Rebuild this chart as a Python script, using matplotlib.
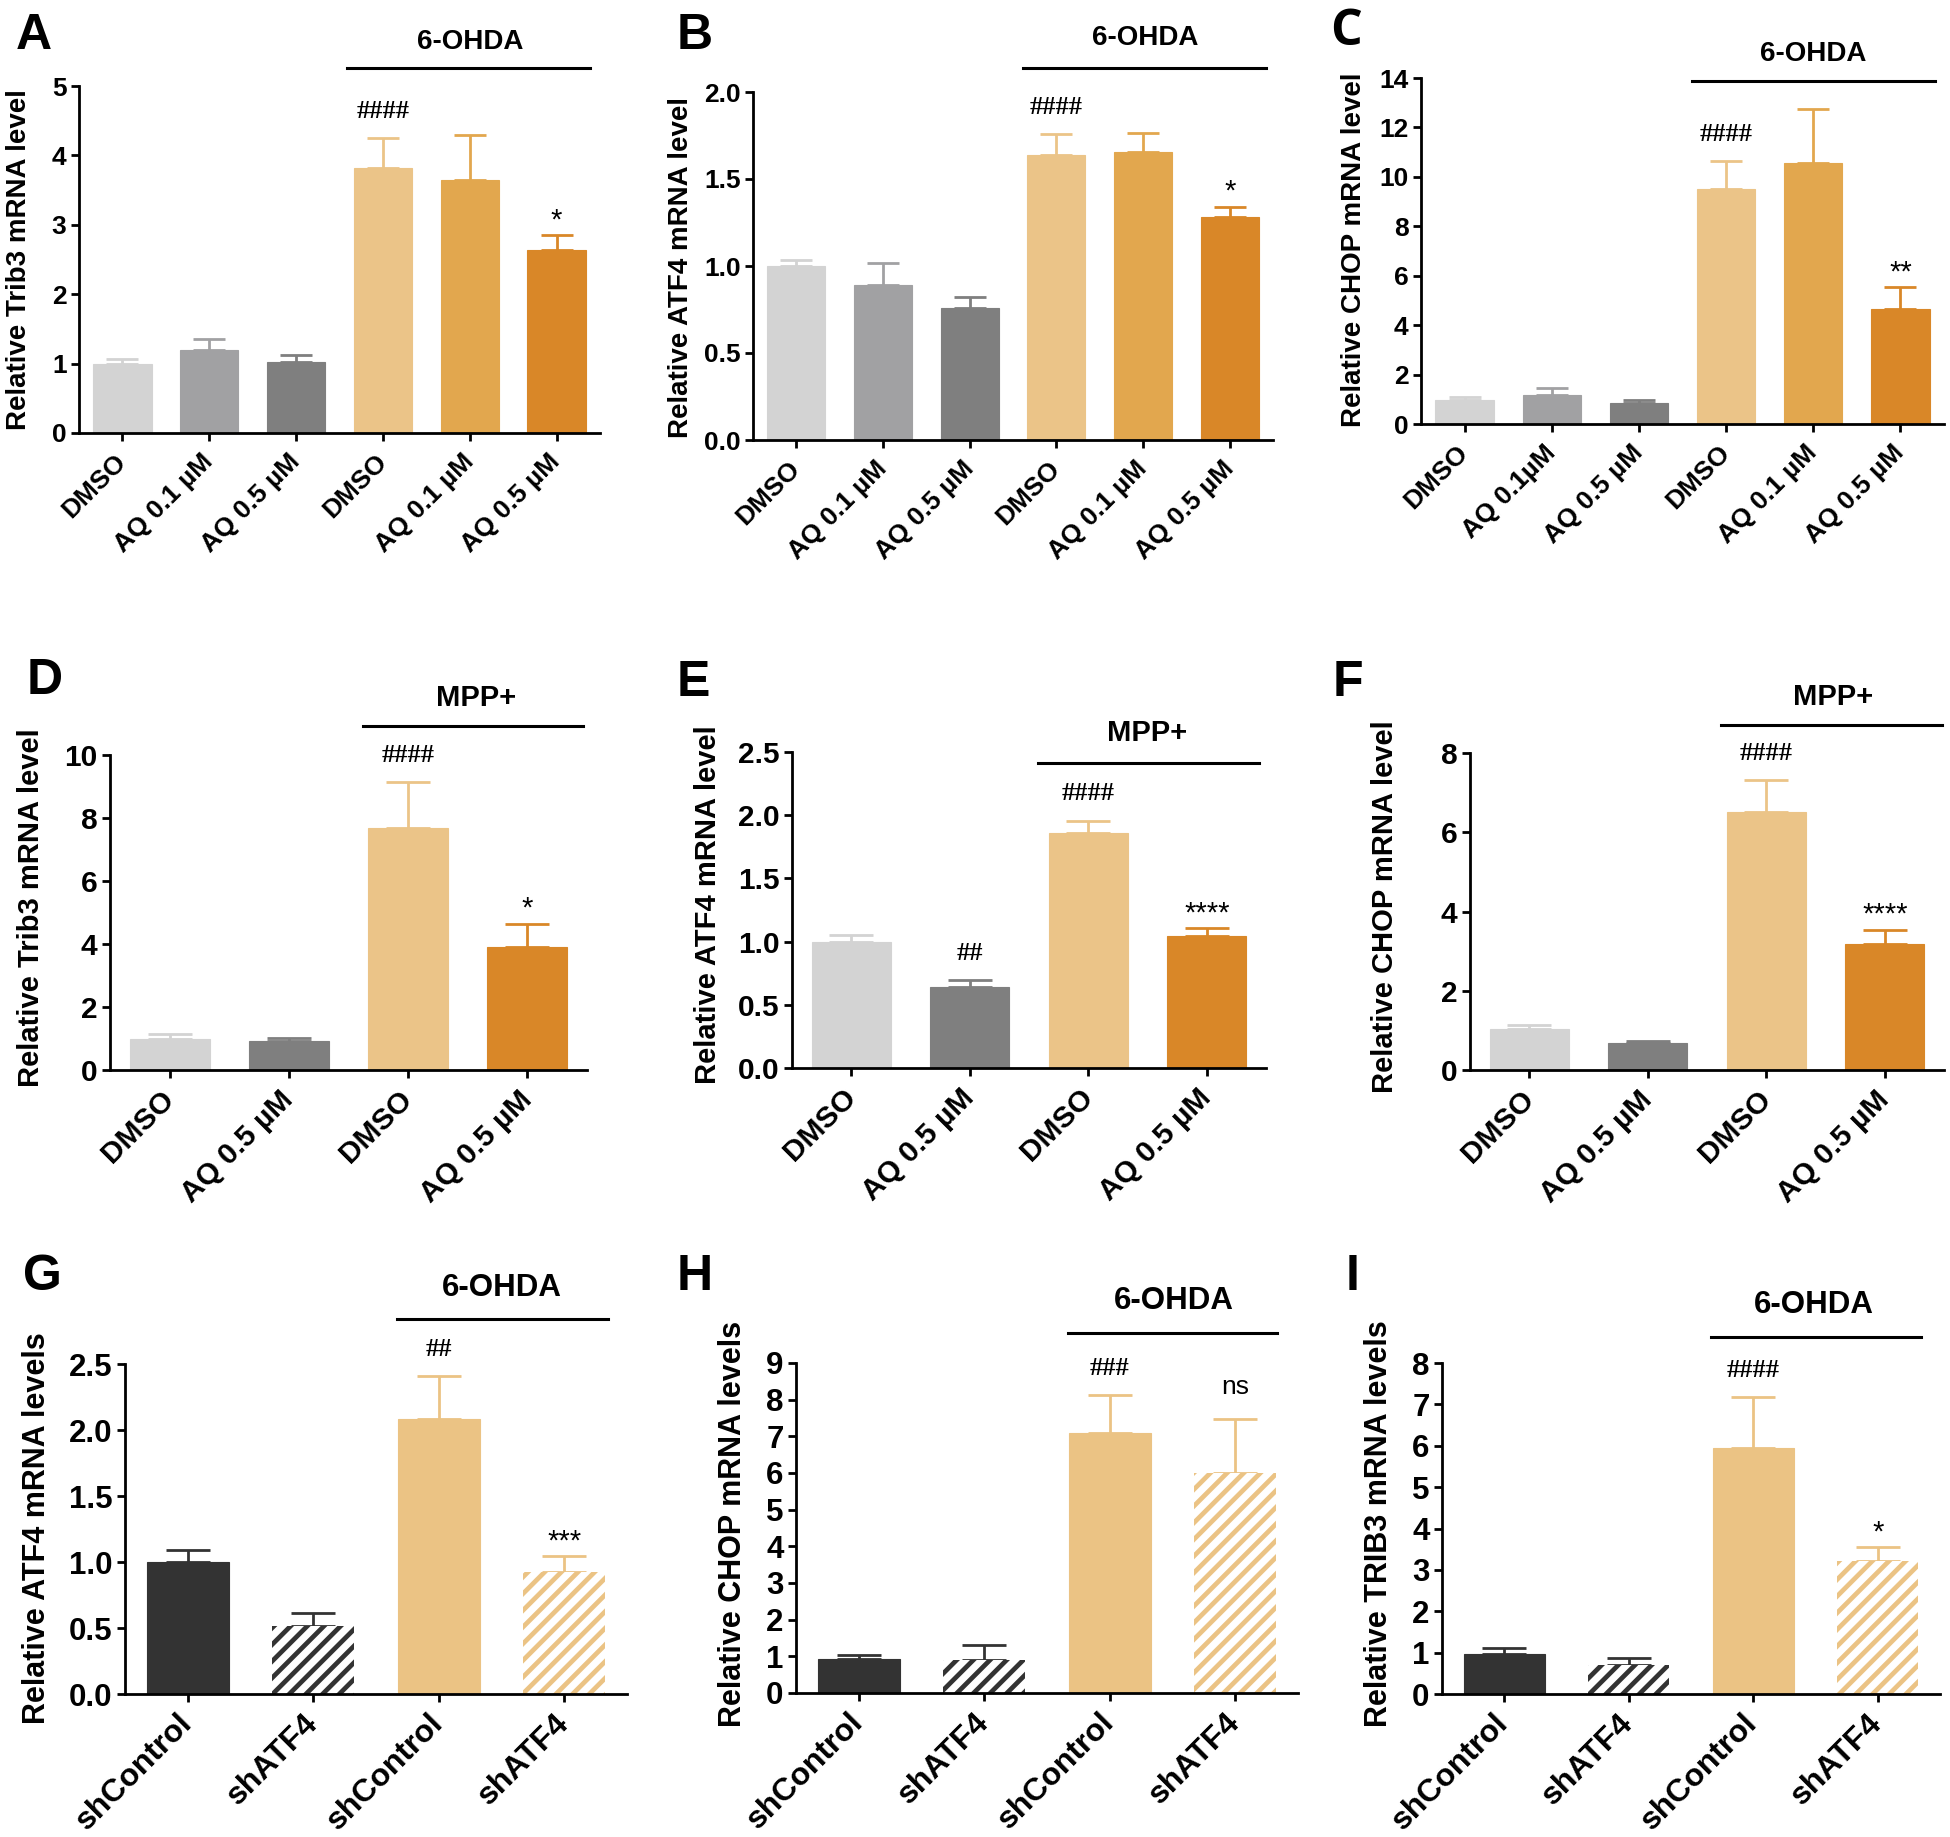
import matplotlib
matplotlib.use("Agg")
import matplotlib.pyplot as plt
import numpy as np

plt.rcParams['font.family'] = ['Liberation Sans', 'DejaVu Sans']
plt.rcParams['hatch.linewidth'] = 3.4

W, H = 1950, 1837

# ---------------- data ----------------
A_labels = ["DMSO", "AQ 0.1 µM", "AQ 0.5 µM", "DMSO", "AQ 0.1 µM", "AQ 0.5 µM"]
A_means = [1.00, 1.20, 1.02, 3.82, 3.65, 2.63]
A_sem = [0.07, 0.15, 0.10, 0.43, 0.65, 0.22]

B_labels = ["DMSO", "AQ 0.1 µM", "AQ 0.5 µM", "DMSO", "AQ 0.1 µM", "AQ 0.5 µM"]
B_means = [1.00, 0.89, 0.76, 1.64, 1.655, 1.28]
B_sem = [0.035, 0.13, 0.06, 0.12, 0.11, 0.06]

C_labels = ["DMSO", "AQ 0.1µM", "AQ 0.5 µM", "DMSO", "AQ 0.1 µM", "AQ 0.5 µM"]
C_means = [0.99, 1.19, 0.84, 9.50, 10.57, 4.67]
C_sem = [0.11, 0.25, 0.14, 1.13, 2.19, 0.87]

D_labels = ["DMSO", "AQ 0.5 µM", "DMSO", "AQ 0.5 µM"]
D_means = [1.00, 0.91, 7.68, 3.90]
D_sem = [0.13, 0.10, 1.46, 0.75]

E_labels = ["DMSO", "AQ 0.5 µM", "DMSO", "AQ 0.5 µM"]
E_means = [0.995, 0.637, 1.863, 1.042]
E_sem = [0.061, 0.058, 0.094, 0.064]

F_labels = ["DMSO", "AQ 0.5 µM", "DMSO", "AQ 0.5 µM"]
F_means = [1.03, 0.68, 6.52, 3.18]
F_sem = [0.11, 0.06, 0.79, 0.36]

G_labels = ["shControl", "shATF4", "shControl", "shATF4"]
G_means = [1.00, 0.513, 2.08, 0.925]
G_sem = [0.093, 0.102, 0.33, 0.119]

H_labels = ["shControl", "shATF4", "shControl", "shATF4"]
H_means = [0.93, 0.89, 7.10, 5.99]
H_sem = [0.115, 0.43, 1.03, 1.49]

I_labels = ["shControl", "shATF4", "shControl", "shATF4"]
I_means = [0.97, 0.71, 5.94, 3.22]
I_sem = [0.14, 0.16, 1.24, 0.33]

# ---------------- styles ----------------
GREY1, GREY2, GREY3 = "#D3D3D3", "#A1A1A3", "#7F7F7F"
OR1, OR2, OR3 = "#EBC488", "#E2A74E", "#D98728"
BLK, OR_G = "#333333", "#EBC384"

six_colors = [GREY1, GREY2, GREY3, OR1, OR2, OR3]
four_colors = [GREY1, GREY3, OR1, OR3]
sh_colors = [BLK, BLK, OR_G, OR_G]
sh_hatch = [False, True, False, True]

def px_rect(L, R, y0, top):
    return [L / W, 1 - y0 / H, (R - L) / W, (y0 - top) / H]

panels = [
    dict(letter="A", rect=px_rect(79, 600, 433, 86), labels=A_labels, means=A_means, sem=A_sem,
         colors=six_colors, ymax=5, ystep=1, fmt="{:.0f}", ylabel="Relative Trib3 mRNA level",
         group="6-OHDA", gline=(2.59, 5.39, 1.052), gtext=(4.01, 1.127),
         marks=[(3, "####"), (5, "*")], letpos=(16, 49), ylpos=(19, 260), row=1),
    dict(letter="B", rect=px_rect(753, 1273, 440, 92), labels=B_labels, means=B_means, sem=B_sem,
         colors=six_colors, ymax=2, ystep=0.5, fmt="{:.1f}", ylabel="Relative ATF4 mRNA level",
         group="6-OHDA", gline=(2.62, 5.42, 1.070), gtext=(4.03, 1.154),
         marks=[(3, "####"), (5, "*")], letpos=(677, 49), ylpos=(681, 267), row=1),
    dict(letter="C", rect=px_rect(1421, 1944, 424, 78), labels=C_labels, means=C_means, sem=C_sem,
         colors=six_colors, ymax=14, ystep=2, fmt="{:.0f}", ylabel="Relative CHOP mRNA level",
         group="6-OHDA", gline=(2.61, 5.40, 0.99), gtext=(4.0, 1.068),
         marks=[(3, "####"), (5, "**")], letpos=(1330, 45), ylpos=(1354, 250), row=1),
    dict(letter="D", rect=px_rect(110, 587, 1070, 755), labels=D_labels, means=D_means, sem=D_sem,
         colors=four_colors, ymax=10, ystep=2, fmt="{:.0f}", ylabel="Relative Trib3 mRNA level",
         group="MPP+", gline=(1.62, 3.47, 1.091), gtext=(2.57, 1.181),
         marks=[(2, "####"), (3, "*")], letpos=(27, 694), ylpos=(31, 908), row=2),
    dict(letter="E", rect=px_rect(792, 1266, 1068, 752), labels=E_labels, means=E_means, sem=E_sem,
         colors=four_colors, ymax=2.5, ystep=0.5, fmt="{:.1f}", ylabel="Relative ATF4 mRNA level",
         group="MPP+", gline=(1.58, 3.44, 0.966), gtext=(2.5, 1.059),
         marks=[(1, "##"), (2, "####"), (3, "****")], letpos=(677, 696), ylpos=(708, 905), row=2),
    dict(letter="F", rect=px_rect(1470, 1944, 1070, 753), labels=F_labels, means=F_means, sem=F_sem,
         colors=four_colors, ymax=8, ystep=2, fmt="{:.0f}", ylabel="Relative CHOP mRNA level",
         group="MPP+", gline=(1.62, 3.48, 1.087), gtext=(2.56, 1.177),
         marks=[(2, "####"), (3, "****")], letpos=(1333, 696), ylpos=(1385, 907), row=2),
    dict(letter="G", rect=px_rect(125, 627, 1694, 1364), labels=G_labels, means=G_means, sem=G_sem,
         colors=sh_colors, ymax=2.5, ystep=0.5, fmt="{:.1f}", ylabel="Relative ATF4 mRNA levels",
         group="6-OHDA", gline=(1.67, 3.35, 1.136), gtext=(2.5, 1.231),
         marks=[(2, "##"), (3, "***")], letpos=(23, 1290), ylpos=(37, 1528), row=3),
    dict(letter="H", rect=px_rect(796, 1298, 1693, 1363), labels=H_labels, means=H_means, sem=H_sem,
         colors=sh_colors, ymax=9, ystep=1, fmt="{:.0f}", ylabel="Relative CHOP mRNA levels",
         group="6-OHDA", gline=(1.67, 3.33, 1.092), gtext=(2.51, 1.187),
         marks=[(2, "###"), (3, "ns")], letpos=(677, 1290), ylpos=(733, 1524), row=3),
    dict(letter="I", rect=px_rect(1442, 1940, 1694, 1363), labels=I_labels, means=I_means, sem=I_sem,
         colors=sh_colors, ymax=8, ystep=1, fmt="{:.0f}", ylabel="Relative TRIB3 mRNA levels",
         group="6-OHDA", gline=(1.66, 3.35, 1.078), gtext=(2.49, 1.175),
         marks=[(2, "####"), (3, "*")], letpos=(1346, 1290), ylpos=(1379, 1524), row=3),
]

row_style = {
    1: dict(bw=0.67, cap=11.5, ytick=19, xtick=19, ylab=20, group=20),
    2: dict(bw=0.67, cap=15.8, ytick=21.5, xtick=21.5, ylab=21, group=21),
    3: dict(bw=0.65, cap=15.8, ytick=22.5, xtick=23, ylab=22, group=22.5),
}

fig = plt.figure(figsize=(W / 100, H / 100), dpi=100)

for p in panels:
    st = row_style[p["row"]]
    ax = fig.add_axes(p["rect"])
    n = len(p["means"])
    x = np.arange(n)
    means = np.array(p["means"])
    sem = np.array(p["sem"])
    hatched = sh_hatch if p["row"] == 3 else [False] * n
    for i in range(n):
        c = p["colors"][i]
        ax.errorbar(x[i], means[i], yerr=[[0], [sem[i]]], fmt="none", ecolor=c,
                    elinewidth=2.0, capsize=st["cap"], capthick=2.0, zorder=1)
        if hatched[i]:
            ax.bar(x[i], means[i], width=st["bw"], facecolor="white", edgecolor=c,
                   hatch="//", linewidth=0, zorder=2)
        else:
            ax.bar(x[i], means[i], width=st["bw"], color=c, edgecolor=c, linewidth=0.8, zorder=2)
    ax.set_xlim(-0.5, n - 0.5)
    ax.set_ylim(0, p["ymax"])
    ticks = np.arange(0, p["ymax"] + 1e-9, p["ystep"])
    ax.set_yticks(ticks)
    ax.set_yticklabels([p["fmt"].format(t) for t in ticks], fontsize=st["ytick"], fontweight="bold")
    ax.set_xticks(x)
    ax.set_xticklabels(p["labels"], fontsize=st["xtick"], fontweight="bold", rotation=45,
                       ha="right", va="center", rotation_mode="anchor")
    for s in ["top", "right"]:
        ax.spines[s].set_visible(False)
    for s in ["left", "bottom"]:
        ax.spines[s].set_linewidth(2.0)
    ax.tick_params(axis="y", direction="out", length=6, width=2.0, pad=3)
    ax.tick_params(axis="x", direction="out", length=6, width=2.0, pad=12)
    ax.patch.set_alpha(0)

    # group bar
    tr = ax.get_xaxis_transform()
    x0, x1, yl = p["gline"]
    ax.plot([x0, x1], [yl, yl], color="black", lw=2.2, transform=tr, clip_on=False)
    ax.text(p["gtext"][0], p["gtext"][1], p["group"], transform=tr, ha="center", va="center",
            fontsize=st["group"], fontweight="bold")

    # significance marks
    for idx, txt in p["marks"]:
        top = means[idx] + sem[idx]
        if txt.startswith("#"):
            ax.annotate(txt, (x[idx], top), xytext=(0, 14.5), textcoords="offset points",
                        ha="center", va="baseline", fontsize=19, fontweight="bold",
                        family="Liberation Serif")
        elif txt == "ns":
            ax.annotate(txt, (x[idx], top), xytext=(0, 17.5), textcoords="offset points",
                        ha="center", va="baseline", fontsize=19)
        else:
            ax.annotate(txt, (x[idx], top), xytext=(0, 5), textcoords="offset points",
                        ha="center", va="baseline", fontsize=21)

    # y label
    fig.text(p["ylpos"][0] / W, 1 - p["ylpos"][1] / H, p["ylabel"], rotation=90,
             ha="center", va="center", fontsize=st["ylab"], fontweight="bold")
    # panel letter
    fam = ["Open Sans", "Liberation Sans"] if p["letter"] == "C" else ["Liberation Sans"]
    fig.text(p["letpos"][0] / W, 1 - p["letpos"][1] / H, p["letter"], ha="left", va="baseline",
             fontsize=36, fontweight="bold", family=fam)

fig.savefig("out.png", dpi=100)
